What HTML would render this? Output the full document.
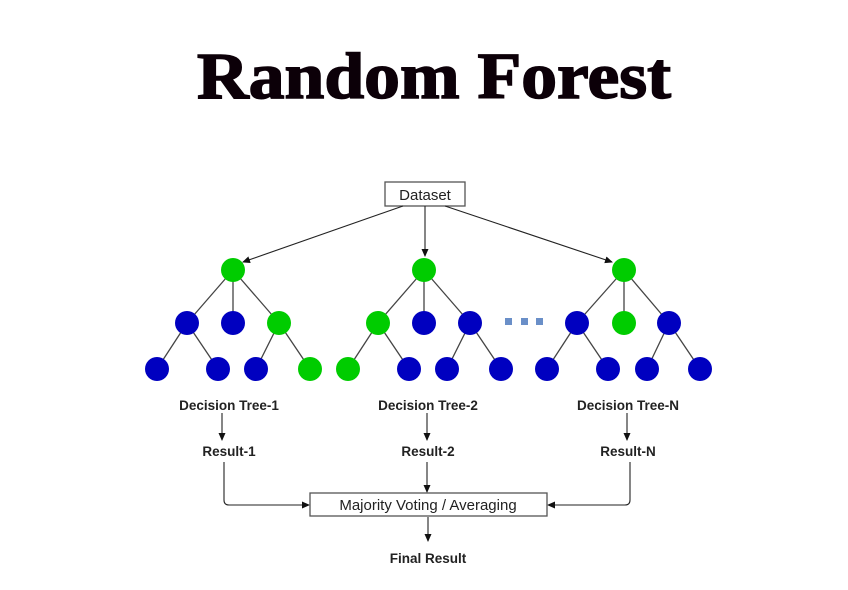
<!DOCTYPE html>
<html><head><meta charset="utf-8"><style>html,body{margin:0;padding:0;background:#fff}svg{display:block}</style></head>
<body>
<svg width="848" height="590" viewBox="0 0 848 590" xmlns="http://www.w3.org/2000/svg">
<defs><marker id="a" markerWidth="8" markerHeight="8" refX="7" refY="4" orient="auto" markerUnits="userSpaceOnUse"><path d="M0,0.5 L8,4 L0,7.5 z" fill="#111"/></marker></defs>
<text x="434" y="98" text-anchor="middle" font-family="Liberation Serif, serif" font-weight="bold" font-size="66" fill="#0c0008" stroke="#0c0008" stroke-width="1.5" textLength="474" lengthAdjust="spacingAndGlyphs">Random Forest</text>
<rect x="385" y="182" width="80" height="24" fill="#fff" stroke="#555" stroke-width="1.3"/>
<text x="425" y="200" text-anchor="middle" font-family="Liberation Sans, sans-serif" font-size="15" fill="#222">Dataset</text>
<g stroke="#222" stroke-width="1.1" fill="none" marker-end="url(#a)">
<line x1="403" y1="206" x2="243" y2="262"/>
<line x1="425" y1="206" x2="425" y2="256"/>
<line x1="445" y1="206" x2="612" y2="262"/>
</g>
<g stroke="#444" stroke-width="1.3">
<line x1="233" y1="270" x2="187" y2="323"/><line x1="233" y1="270" x2="233" y2="323"/><line x1="233" y1="270" x2="279" y2="323"/>
<line x1="187" y1="323" x2="157" y2="369"/><line x1="187" y1="323" x2="218" y2="369"/>
<line x1="279" y1="323" x2="256" y2="369"/><line x1="279" y1="323" x2="310" y2="369"/>
<line x1="424" y1="270" x2="378" y2="323"/><line x1="424" y1="270" x2="424" y2="323"/><line x1="424" y1="270" x2="470" y2="323"/>
<line x1="378" y1="323" x2="348" y2="369"/><line x1="378" y1="323" x2="409" y2="369"/>
<line x1="470" y1="323" x2="447" y2="369"/><line x1="470" y1="323" x2="501" y2="369"/>
<line x1="624" y1="270" x2="577" y2="323"/><line x1="624" y1="270" x2="624" y2="323"/><line x1="624" y1="270" x2="669" y2="323"/>
<line x1="577" y1="323" x2="547" y2="369"/><line x1="577" y1="323" x2="608" y2="369"/>
<line x1="669" y1="323" x2="647" y2="369"/><line x1="669" y1="323" x2="700" y2="369"/>
</g>
<g>
<circle cx="233" cy="270" r="12" fill="#00cc00"/>
<circle cx="187" cy="323" r="12" fill="#0000c0"/><circle cx="233" cy="323" r="12" fill="#0000c0"/><circle cx="279" cy="323" r="12" fill="#00cc00"/>
<circle cx="157" cy="369" r="12" fill="#0000c0"/><circle cx="218" cy="369" r="12" fill="#0000c0"/><circle cx="256" cy="369" r="12" fill="#0000c0"/><circle cx="310" cy="369" r="12" fill="#00cc00"/>
<circle cx="424" cy="270" r="12" fill="#00cc00"/>
<circle cx="378" cy="323" r="12" fill="#00cc00"/><circle cx="424" cy="323" r="12" fill="#0000c0"/><circle cx="470" cy="323" r="12" fill="#0000c0"/>
<circle cx="348" cy="369" r="12" fill="#00cc00"/><circle cx="409" cy="369" r="12" fill="#0000c0"/><circle cx="447" cy="369" r="12" fill="#0000c0"/><circle cx="501" cy="369" r="12" fill="#0000c0"/>
<circle cx="624" cy="270" r="12" fill="#00cc00"/>
<circle cx="577" cy="323" r="12" fill="#0000c0"/><circle cx="624" cy="323" r="12" fill="#00cc00"/><circle cx="669" cy="323" r="12" fill="#0000c0"/>
<circle cx="547" cy="369" r="12" fill="#0000c0"/><circle cx="608" cy="369" r="12" fill="#0000c0"/><circle cx="647" cy="369" r="12" fill="#0000c0"/><circle cx="700" cy="369" r="12" fill="#0000c0"/>
</g>
<g fill="#6a8fc8"><rect x="505" y="318" width="7" height="7"/><rect x="521" y="318" width="7" height="7"/><rect x="536" y="318" width="7" height="7"/></g>
<g font-family="Liberation Sans, sans-serif" font-weight="bold" font-size="13.5" fill="#222" text-anchor="middle">
<text x="229" y="410">Decision Tree-1</text>
<text x="428" y="410">Decision Tree-2</text>
<text x="628" y="410">Decision Tree-N</text>
<text x="229" y="456">Result-1</text>
<text x="428" y="456">Result-2</text>
<text x="628" y="456">Result-N</text>
<text x="428" y="563">Final Result</text>
</g>
<g stroke="#222" stroke-width="1.1" fill="none" marker-end="url(#a)">
<line x1="222" y1="413" x2="222" y2="440"/>
<line x1="427" y1="413" x2="427" y2="440"/>
<line x1="627" y1="413" x2="627" y2="440"/>
<line x1="427" y1="462" x2="427" y2="492"/>
<path d="M224,462 V500 Q224,505 229,505 H309"/>
<path d="M630,462 V500 Q630,505 625,505 H548"/>
<line x1="428" y1="517" x2="428" y2="541"/>
</g>
<rect x="310" y="493" width="237" height="23" fill="#fff" stroke="#555" stroke-width="1.3"/>
<text x="428" y="510" text-anchor="middle" font-family="Liberation Sans, sans-serif" font-size="15" fill="#222">Majority Voting / Averaging</text>
</svg>
</body></html>
